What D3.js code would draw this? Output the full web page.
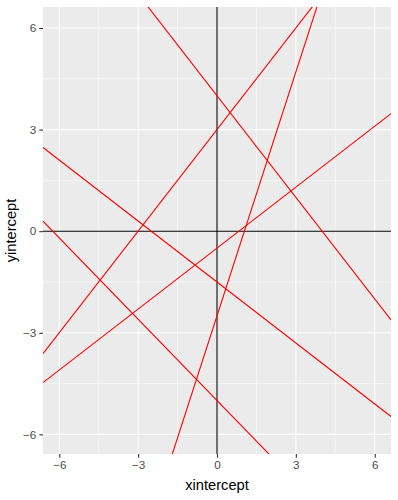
<!DOCTYPE html>
<html>
<head>
<meta charset="utf-8">
<script src="https://cdn.jsdelivr.net/npm/d3@7"></script>
<style>
  body { margin: 0; background: #fff; }
  text { font-family: "Liberation Sans", Arial, sans-serif; }
</style>
</head>
<body>
<div id="chart"></div>
<script>
// line data (y = slope * x + intercept)
var slopes = [2.4, -1, -0.6, -0.8, 1, 0.6];
var intercepts = [-2.5, 4, -1.5, -5, 3, -0.5];

// axis ticks
var majorTicks = [-6, -3, 0, 3, 6];
var minorTicks = [-4.5, -1.5, 1.5, 4.5];
var xDomain = [-6.62, 6.62];
var yDomain = [-6.58, 6.62];

var svgWidth = 398;
var svgHeight = 500;
var margin = { top: 7, right: 7, bottom: 46, left: 43 };
var width = svgWidth - margin.left - margin.right;
var height = svgHeight - margin.top - margin.bottom;

var svg = d3.select("#chart")
  .append("svg")
  .attr("width", svgWidth)
  .attr("height", svgHeight);

var chartGroup = svg.append("g")
  .attr("transform", `translate(${margin.left}, ${margin.top})`);

var x = d3.scaleLinear().domain(xDomain).range([0, width]);
var y = d3.scaleLinear().domain(yDomain).range([height, 0]);

// panel background
chartGroup.append("rect")
  .attr("width", width)
  .attr("height", height)
  .attr("fill", "#EBEBEB");

// clip
svg.append("defs").append("clipPath")
  .attr("id", "panel")
  .append("rect")
  .attr("width", width)
  .attr("height", height);

// grid lines
chartGroup.selectAll(".minor-x")
  .data(minorTicks)
  .enter().append("line")
  .attr("x1", d => x(d)).attr("x2", d => x(d))
  .attr("y1", 0).attr("y2", height)
  .attr("stroke", "#fff").attr("stroke-width", 0.55);
chartGroup.selectAll(".minor-y")
  .data(minorTicks)
  .enter().append("line")
  .attr("y1", d => y(d)).attr("y2", d => y(d))
  .attr("x1", 0).attr("x2", width)
  .attr("stroke", "#fff").attr("stroke-width", 0.55);
chartGroup.selectAll(".major-x")
  .data(majorTicks)
  .enter().append("line")
  .attr("x1", d => x(d)).attr("x2", d => x(d))
  .attr("y1", 0).attr("y2", height)
  .attr("stroke", "#fff").attr("stroke-width", 1.1);
chartGroup.selectAll(".major-y")
  .data(majorTicks)
  .enter().append("line")
  .attr("y1", d => y(d)).attr("y2", d => y(d))
  .attr("x1", 0).attr("x2", width)
  .attr("stroke", "#fff").attr("stroke-width", 1.1);

var plot = chartGroup.append("g").attr("clip-path", "url(#panel)");

// hline / vline at zero
plot.append("line")
  .attr("x1", 0).attr("x2", width)
  .attr("y1", y(0)).attr("y2", y(0))
  .attr("stroke", "#000").attr("stroke-width", 1.1);
plot.append("line")
  .attr("x1", x(0)).attr("x2", x(0))
  .attr("y1", 0).attr("y2", height)
  .attr("stroke", "#000").attr("stroke-width", 1.1);

// ablines
var lines = slopes.map((s, i) => ({ slope: s, intercept: intercepts[i] }));
plot.selectAll(".abline")
  .data(lines)
  .enter().append("line")
  .attr("x1", x(xDomain[0]))
  .attr("x2", x(xDomain[1]))
  .attr("y1", d => y(d.slope * xDomain[0] + d.intercept))
  .attr("y2", d => y(d.slope * xDomain[1] + d.intercept))
  .attr("stroke", "#FF0000")
  .attr("stroke-width", 1.1);

// axes
var bottomAxis = d3.axisBottom(x).tickValues(majorTicks).tickSize(3.7).tickPadding(3).tickFormat(d3.format("d"));
var leftAxis = d3.axisLeft(y).tickValues(majorTicks).tickSize(3.7).tickPadding(3).tickFormat(d3.format("d"));

var xAxis = chartGroup.append("g")
  .attr("transform", `translate(0, ${height})`)
  .call(bottomAxis);
var yAxis = chartGroup.append("g")
  .call(leftAxis);

[xAxis, yAxis].forEach(function (ax) {
  ax.select(".domain").remove();
  ax.selectAll(".tick line").attr("stroke", "#333333").attr("stroke-width", 1.1);
  ax.selectAll(".tick text")
    .attr("fill", "#4D4D4D")
    .style("font-size", "11.7px")
    .style("font-family", "Liberation Sans, Arial, sans-serif");
});

// axis titles
chartGroup.append("text")
  .attr("x", width / 2)
  .attr("y", height + 36)
  .attr("text-anchor", "middle")
  .style("font-size", "14.7px")
  .attr("fill", "#000")
  .text("xintercept");

chartGroup.append("text")
  .attr("transform", "rotate(-90)")
  .attr("x", -height / 2)
  .attr("y", -27)
  .attr("text-anchor", "middle")
  .style("font-size", "14.7px")
  .attr("fill", "#000")
  .text("yintercept");
</script>
</body>
</html>
